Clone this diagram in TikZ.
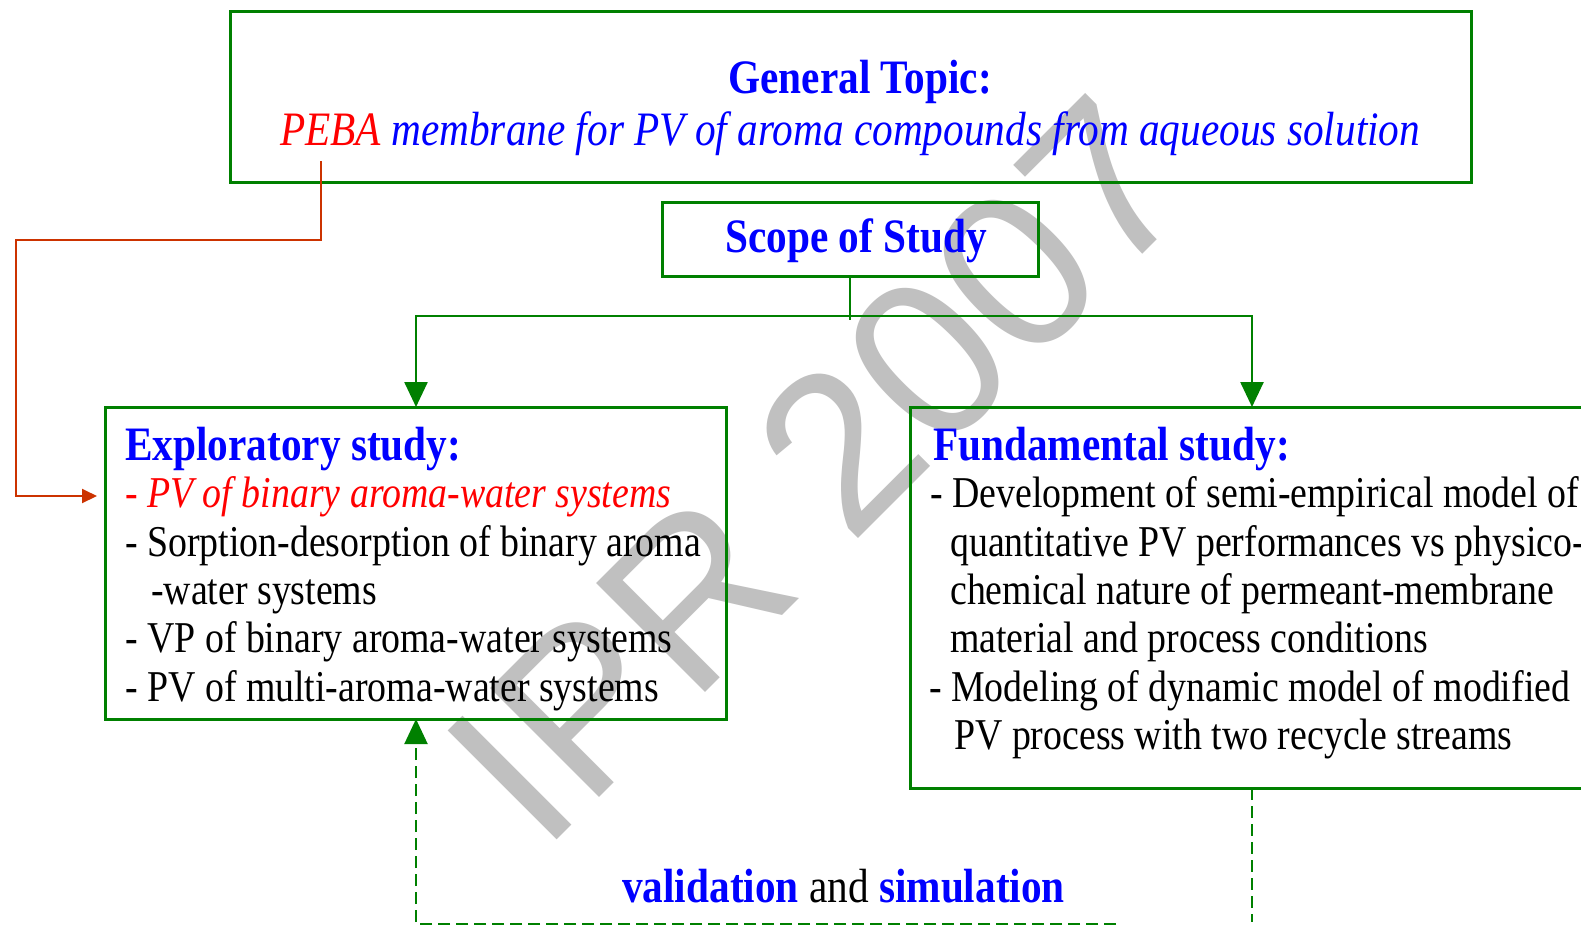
\documentclass[tikz,border=0pt]{standalone}
\usepackage{fontspec}
\usepackage{graphicx}
\setmainfont{Liberation Serif}
\newfontfamily\wmfont{Liberation Sans}
\usetikzlibrary{arrows.meta,calc}
\definecolor{grn}{HTML}{008000}
\definecolor{blu}{HTML}{0000FF}
\definecolor{rd}{HTML}{FF0000}
\definecolor{conn}{HTML}{CC3300}
\definecolor{wm}{HTML}{C0C0C0}
\newcommand\sq[1]{\scalebox{0.86}[1]{#1}}
\begin{document}
\begin{tikzpicture}[x=1pt,y=-1pt,
 box/.style={draw=grn, line width=3pt, inner sep=0pt, outer sep=0pt, anchor=north west},
 body/.style={font=\fontsize{44}{48}\selectfont, anchor=base west, inner sep=0pt, text=black},
 ttl/.style={font=\fontsize{48}{54}\selectfont\bfseries, inner sep=0pt, text=blu},
 gline/.style={draw=grn, line width=2.5pt},
 garrow/.style={-{Triangle[width=23pt,length=25pt]}},
 rarrow/.style={draw=conn, line width=2pt, -{Triangle[width=14pt,length=15pt]}},
 dline/.style={draw=grn, line width=2pt, dash pattern=on 12pt off 6pt}]
\useasboundingbox (0,0) rectangle (1581,927);
\clip (0,0) rectangle (1581,927);
\fill[white] (0,0) rectangle (1581,927);
% watermark
\node[font=\wmfont\fontsize{224}{224}\selectfont, text=wm, rotate=45, inner sep=0pt] (wm) at (818,470) {IPR 2007};
% boxes
\node[box, minimum width=1241pt, minimum height=171pt] (topbox) at (230,11) {};
\node[box, minimum width=376pt, minimum height=74pt] (scope) at (662,202) {};
\node[box, minimum width=621pt, minimum height=312pt] (exbox) at (105,407) {};
\node[box, minimum width=700pt, minimum height=381pt] (fubox) at (910,407) {};
% top texts
\node[ttl, anchor=base] (gt) at (860,93) {\sq{General Topic:}};
\node[font=\fontsize{48}{52}\selectfont\itshape, anchor=base west, inner sep=0pt] (gtl) at (280,145)
  {\sq{\textcolor{rd}{PEBA} \textcolor{blu}{membrane for PV of aroma compounds from aqueous solution}}};
\node[ttl, anchor=base] (sc) at (856,252) {\sq{Scope of Study}};
% exploratory
\node[ttl, anchor=base west] (ext) at (125,460) {\sq{Exploratory study:}};
\node[body, text=rd, font=\fontsize{44}{48}\selectfont\itshape] (ex1) at (125,507) {\sq{- PV of binary aroma-water systems}};
\node[body] (ex2) at (125,556) {\sq{- Sorption-desorption of binary aroma}};
\node[body] (ex3) at (151,604) {\sq{-water systems}};
\node[body] (ex4) at (125,652) {\sq{- VP of binary aroma-water systems}};
\node[body] (ex5) at (125,701) {\sq{- PV of multi-aroma-water systems}};
% fundamental
\node[ttl, anchor=base west] (fut) at (933,460) {\sq{Fundamental study:}};
\node[body] (fu1) at (930,507) {\sq{- Development of semi-empirical model of}};
\node[body] (fu2) at (950,556) {\sq{quantitative PV performances vs physico-}};
\node[body] (fu3) at (950,604) {\sq{chemical nature of permeant-membrane}};
\node[body] (fu4) at (950,652) {\sq{material and process conditions}};
\node[body] (fu5) at (929,701) {\sq{- Modeling of dynamic model of modified}};
\node[body] (fu6) at (954,749) {\sq{PV process with two recycle streams}};
% bottom label
\node[anchor=base west, inner sep=0pt, font=\fontsize{48}{54}\selectfont] (val) at (622,902)
  {\sq{\textcolor{blu}{\bfseries validation} and \textcolor{blu}{\bfseries simulation}}};
% connectors
\coordinate (jn) at (850,316);
\coordinate (la) at (416,407);
\coordinate (ra) at (1252,407);
\draw[gline] (scope.south) -- ($(scope.south |- jn)+(0,4)$);
\draw[gline, garrow] (jn) -| (la);
\draw[gline, garrow] (jn) -| (ra);
\coordinate (pb) at (321,161);
\coordinate (rc1) at (16,240);
\coordinate (rt) at (97,496);
\draw[rarrow] (pb) |- (rc1) |- (rt);
\coordinate (fb) at (1252,788);
\coordinate (fe) at (1252,922);
\draw[dline] (fb) -- (fe);
\coordinate (be) at (1116,924);
\coordinate (bc) at (416,924);
\coordinate (eb) at (416,719);
\draw[dline, garrow] (be) -- (bc) -- (eb);
\end{tikzpicture}
\end{document}
